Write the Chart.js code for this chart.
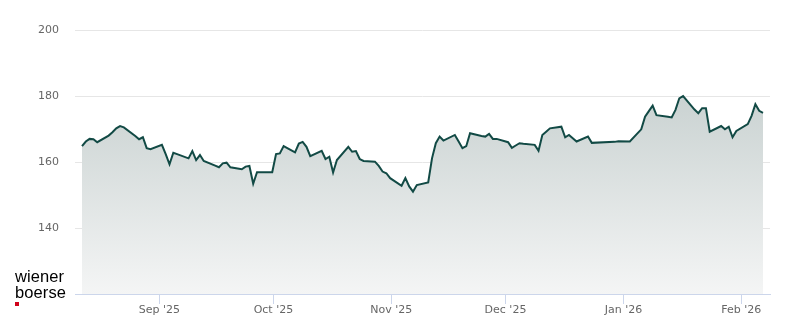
<!DOCTYPE html>
<html><head><meta charset="utf-8">
<script src="https://cdn.jsdelivr.net/npm/chart.js@4/dist/chart.umd.min.js"></script>
<style>
html,body{margin:0;padding:0;background:#fff;}
#wrap{position:relative;width:800px;height:324px;overflow:hidden;}
canvas{display:block;}
.logo{position:absolute;left:15px;top:269px;font-family:"Liberation Sans",Arial,sans-serif;font-size:16.5px;line-height:15.6px;color:#000;letter-spacing:0.1px;}
.sq{position:absolute;left:15px;top:302px;width:4px;height:4px;background:#d0021b;}
</style></head>
<body>
<div id="wrap">
<canvas id="c" width="800" height="324"></canvas>
<div class="logo">wiener<br>boerse</div>
<div class="sq"></div>
</div>
<script>
const dates = [
 '2025-08-11','2025-08-12','2025-08-13','2025-08-14','2025-08-15',
 '2025-08-18','2025-08-19','2025-08-20','2025-08-21','2025-08-22',
 '2025-08-25','2025-08-26','2025-08-27','2025-08-28','2025-08-29',
 '2025-09-01','2025-09-02','2025-09-03','2025-09-04','2025-09-05',
 '2025-09-08','2025-09-09','2025-09-10','2025-09-11','2025-09-12',
 '2025-09-15','2025-09-16','2025-09-17','2025-09-18','2025-09-19',
 '2025-09-22','2025-09-23','2025-09-24','2025-09-25','2025-09-26',
 '2025-09-29','2025-09-30','2025-10-01','2025-10-02','2025-10-03',
 '2025-10-06','2025-10-07','2025-10-08','2025-10-09','2025-10-10',
 '2025-10-13','2025-10-14','2025-10-15','2025-10-16','2025-10-17',
 '2025-10-20','2025-10-21','2025-10-22','2025-10-23','2025-10-24',
 '2025-10-27','2025-10-28','2025-10-29','2025-10-30','2025-10-31',
 '2025-11-03','2025-11-04','2025-11-05','2025-11-06','2025-11-07',
 '2025-11-10','2025-11-11','2025-11-12','2025-11-13','2025-11-14',
 '2025-11-17','2025-11-18','2025-11-19','2025-11-20','2025-11-21',
 '2025-11-24','2025-11-25','2025-11-26','2025-11-27','2025-11-28',
 '2025-12-01','2025-12-02','2025-12-03','2025-12-04','2025-12-05',
 '2025-12-08','2025-12-09','2025-12-10','2025-12-11','2025-12-12',
 '2025-12-15','2025-12-16','2025-12-17','2025-12-18','2025-12-19',
 '2025-12-22','2025-12-23','2025-12-29','2025-12-30','2026-01-02',
 '2026-01-05','2026-01-06','2026-01-07','2026-01-08','2026-01-09',
 '2026-01-12','2026-01-13','2026-01-14','2026-01-15','2026-01-16',
 '2026-01-19','2026-01-20','2026-01-21','2026-01-22','2026-01-23',
 '2026-01-26','2026-01-27','2026-01-28','2026-01-29','2026-01-30',
 '2026-02-02','2026-02-03','2026-02-04','2026-02-05','2026-02-06'
];
const prices = [
 164.8,166.2,167.0,166.9,166.0,
 168.0,169.0,170.2,170.9,170.5,
 167.9,166.9,167.5,164.2,163.9,
 165.2,162.4,159.3,162.8,162.4,
 161.1,163.3,160.6,162.1,160.3,
 158.9,158.4,159.6,159.8,158.4,
 157.8,158.6,158.8,153.4,156.9,
 156.9,156.9,162.4,162.6,164.8,
 162.9,165.6,166.1,164.6,161.8,
 163.4,160.9,161.6,156.8,160.6,
 164.6,163.1,163.3,160.9,160.3,
 160.1,158.8,157.1,156.6,155.1,
 152.8,155.1,152.6,151.0,153.0,
 153.8,161.1,165.7,167.7,166.5,
 168.2,166.2,164.2,164.8,168.7,
 167.9,167.7,168.5,167.0,167.0,
 166.0,164.3,165.0,165.7,165.5,
 165.2,163.4,168.2,169.2,170.2,
 170.7,167.5,168.2,167.2,166.2,
 167.7,165.8,166.1,166.3,166.2,
 169.9,173.7,175.4,177.1,174.2,
 173.7,173.5,175.8,179.3,180.0,
 175.9,174.8,176.3,176.3,169.2,
 170.9,169.9,170.7,167.5,169.4,
 171.5,174.0,177.5,175.5,174.9
];
const monthTicks = ['2025-09-01','2025-10-01','2025-11-01','2025-12-01','2026-01-01','2026-02-01'];
const monthLabels = ["Sep '25","Oct '25","Nov '25","Dec '25","Jan '26","Feb '26"];
const yTicks = [140,160,180,200];
const yMin = 120, yMax = 200;

const EPOCH = Date.UTC(2025,7,1);
const CLOSE_FRACTION = 16.5/24;
function dayNum(s){const p=s.split('-').map(Number);return (Date.UTC(p[0],p[1]-1,p[2])-EPOCH)/864e5;}
const points = dates.map((s,i)=>({x:dayNum(s)+CLOSE_FRACTION,y:prices[i]}));
const first = points[0].x, last = points[points.length-1].x;
const pad = (last-first)*0.0103;
const tickDays = monthTicks.map(dayNum);

new Chart(document.getElementById('c'), {
  type:'line',
  data:{datasets:[{
    data:points,
    borderColor:'#124a45',
    borderWidth:2,
    pointRadius:0,
    tension:0,
    fill:'start',
    backgroundColor:(ctx)=>{
      const ca=ctx.chart.chartArea; if(!ca) return '#d0d7d7';
      const g=ctx.chart.ctx.createLinearGradient(0,ca.top,0,ca.bottom);
      g.addColorStop(0,'#bcc7c6');
      g.addColorStop(1,'#f4f5f5');
      return g;
    }
  }]},
  options:{
    responsive:false,animation:false,
    layout:{padding:{top:30,right:30,left:0,bottom:0}},
    plugins:{legend:{display:false},tooltip:{enabled:false}},
    scales:{
      x:{type:'linear',min:first-pad,max:last+pad,
        afterBuildTicks:(s)=>{s.ticks=tickDays.map(v=>({value:v}));},
        afterFit:(s)=>{s.height=30;},
        ticks:{autoSkip:false,maxRotation:0,color:'#666',font:{family:'DejaVu Sans',size:11},padding:0,
          callback:(v,i)=>monthLabels[i]},
        grid:{drawOnChartArea:false,tickLength:10,color:'#ccd6eb',tickColor:'#ccd6eb'},
        border:{color:'#ccd6eb',width:1}
      },
      y:{min:yMin,max:yMax,
        afterBuildTicks:(s)=>{s.ticks=[yMin].concat(yTicks).map(v=>({value:v}));},
        afterFit:(s)=>{s.width=75;},
        ticks:{color:'#666',font:{family:'DejaVu Sans',size:11},padding:16,
          callback:(v)=>yTicks.includes(v)?String(v):''},
        grid:{drawTicks:false,color:(c)=>c.tick&&c.tick.value===yMin?'rgba(0,0,0,0)':'#e6e6e6'},
        border:{display:false}
      }
    }
  }
});
</script>
</body></html>
